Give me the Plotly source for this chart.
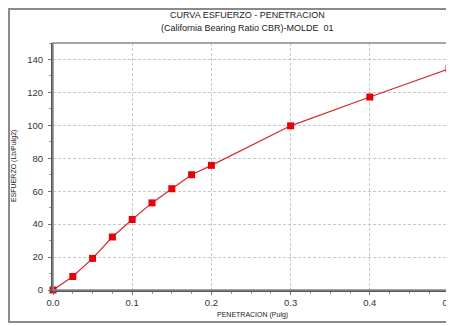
import plotly.graph_objects as go

penetracion = [0.0, 0.025, 0.05, 0.075, 0.1, 0.125, 0.15, 0.175, 0.2, 0.3, 0.4, 0.5]
esfuerzo = [0.0, 8.2, 19.2, 32.2, 42.8, 52.9, 61.5, 70.0, 75.7, 99.7, 117.2, 134.3]
x_ticks = [0.0, 0.1, 0.2, 0.3, 0.4, 0.5]
x_tick_labels = ["0.0", "0.1", "0.2", "0.3", "0.4", "0.5"]
y_ticks = [0, 20, 40, 60, 80, 100, 120, 140]
title_line1 = "CURVA ESFUERZO - PENETRACION"
title_line2 = "(California Bearing Ratio CBR)-MOLDE  01"
x_title = "PENETRACION (Pulg)"
y_title = "ESFUERZO (Lb/Pulg2)"

FONT = "Liberation Sans Narrow, Arial Narrow, Liberation Sans, Arial"

fig = go.Figure()
fig.add_trace(go.Scatter(
    x=penetracion, y=esfuerzo, mode="lines+markers",
    line=dict(color="#d42a2a", width=1.2),
    marker=dict(symbol="square", size=7, color="#e8000b"),
    cliponaxis=False, showlegend=False,
))

fig.update_layout(
    width=446, height=318,
    margin=dict(l=45, r=5, t=35, b=36, autoexpand=False),
    paper_bgcolor="white", plot_bgcolor="white",
    font=dict(family=FONT, size=9, color="#333333"),
    xaxis=dict(
        range=[0, 0.5], tickvals=x_ticks, ticktext=x_tick_labels,
        showgrid=True, gridcolor="#c8c8c8", griddash="3px,2px", gridwidth=1,
        showline=True, linecolor="#555555", linewidth=2, mirror=False,
        ticks="outside", ticklen=3, tickcolor="#777777",
        minor=dict(ticks="outside", ticklen=2, dtick=0.025, tickcolor="#999999", showgrid=False),
        zeroline=False,
        tickfont=dict(family=FONT, size=9.5, color="#333333"),
        ticklabelstandoff=0,
        ticklabeloverflow="allow",
    ),
    yaxis=dict(
        range=[0, 150], tickvals=y_ticks,
        showgrid=True, gridcolor="#c8c8c8", griddash="3px,2px", gridwidth=1,
        showline=True, linecolor="#555555", linewidth=2, mirror=False,
        ticks="outside", ticklen=3, tickcolor="#777777",
        minor=dict(ticks="outside", ticklen=2, dtick=10, tickcolor="#999999", showgrid=False),
        zeroline=False,
        tickfont=dict(family=FONT, size=9.5, color="#333333"),
        ticklabelstandoff=3,
    ),
    annotations=[
        dict(text=title_line1, xref="paper", yref="paper", x=0.49, y=1.113,
             xanchor="center", yanchor="middle", showarrow=False,
             font=dict(family=FONT, size=9, color="#222222")),
        dict(text=title_line2, xref="paper", yref="paper", x=0.49, y=1.061,
             xanchor="center", yanchor="middle", showarrow=False,
             font=dict(family=FONT, size=9, color="#222222")),
        dict(text=x_title, xref="paper", yref="paper", x=0.505, y=-0.101,
             xanchor="center", yanchor="middle", showarrow=False,
             font=dict(family=FONT, size=7, color="#222222")),
        dict(text=y_title, xref="paper", yref="paper", x=-0.0985, y=0.502,
             xanchor="center", yanchor="middle", showarrow=False, textangle=-90,
             font=dict(family=FONT, size=7, color="#222222")),
    ],
    shapes=[
        # plot area border (top/right)
        dict(type="rect", xref="paper", yref="paper", x0=0, y0=0, x1=1, y1=1,
             line=dict(color="#888888", width=1.5), layer="above"),
        # outer frame
        dict(type="rect", xref="paper", yref="paper", x0=-0.111, y0=-0.1296, x1=1.05, y1=1.1377,
             line=dict(color="#8a8a8a", width=2), layer="below"),
    ],
)

fig.write_html("out.html")
